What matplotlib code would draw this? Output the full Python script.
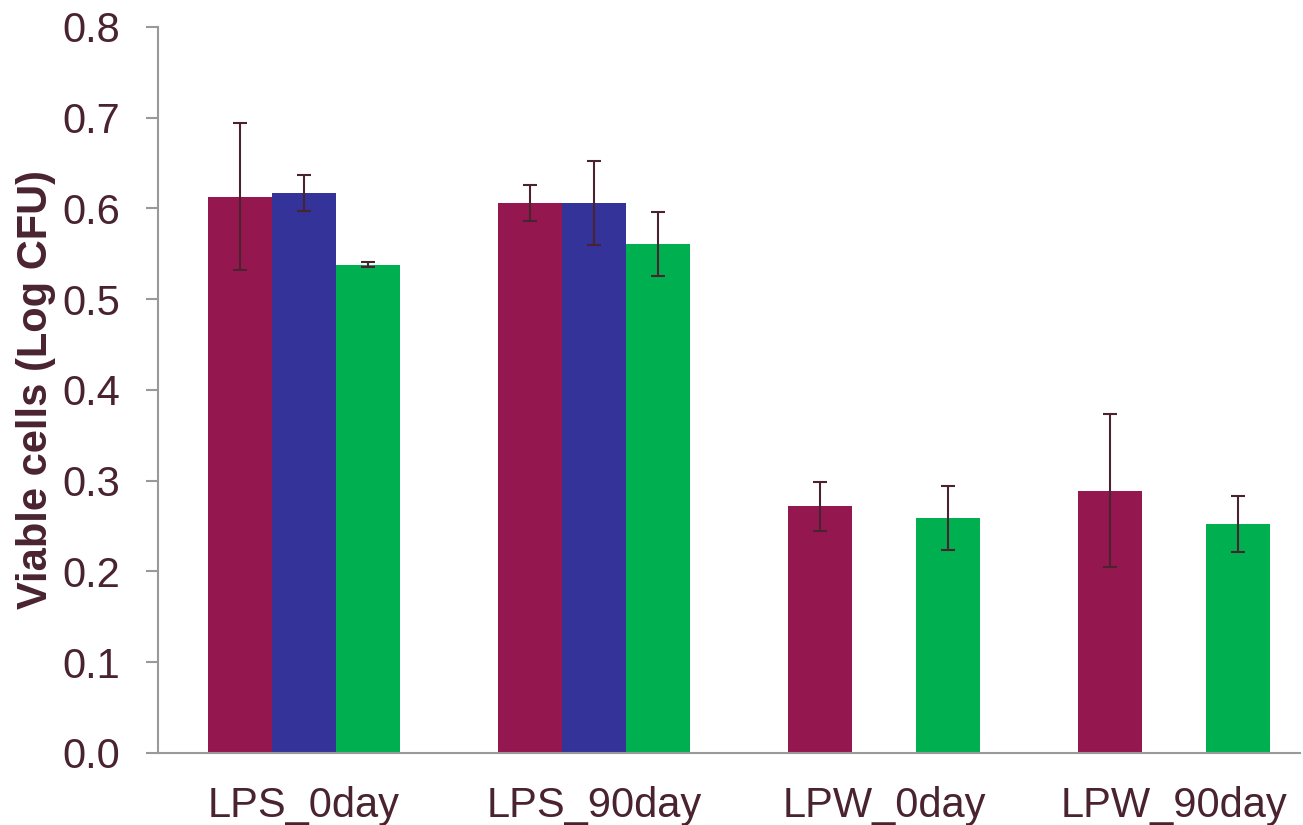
import matplotlib.pyplot as plt
import numpy as np

plt.rcParams['font.family'] = ['Liberation Sans', 'DejaVu Sans']

# data
groups = ['LPS_0day', 'LPS_90day', 'LPW_0day', 'LPW_90day']
maroon_vals = [0.613, 0.606, 0.272, 0.289]
maroon_err = [0.081, 0.020, 0.027, 0.084]
blue_vals = [0.617, 0.606, 0.0, 0.0]
blue_err = [0.020, 0.046, 0.0, 0.0]
green_vals = [0.538, 0.561, 0.259, 0.252]
green_err = [0.003, 0.035, 0.035, 0.031]

text_col = '#4A2330'
spine_col = '#999999'
colors = ['#95174F', '#333399', '#00B050']

fig = plt.figure(figsize=(13.03, 8.25), dpi=100)
ax = fig.add_axes([0.1213, 0.0873, 0.8764, 0.88])

x = np.arange(len(groups))
w = 0.221
series = [(maroon_vals, maroon_err), (blue_vals, blue_err), (green_vals, green_err)]
for i, (vals, errs) in enumerate(series):
    pos = x + (i - 1) * w
    ax.bar(pos, vals, width=w, color=colors[i], edgecolor='none', zorder=2)
    show = [j for j in range(len(vals)) if vals[j] > 0]
    ax.errorbar(pos[show], np.array(vals)[show], yerr=np.array(errs)[show],
                fmt='none', ecolor=text_col, elinewidth=1.5, capsize=5,
                capthick=1.5, zorder=3)

ax.set_xlim(-0.503, 3.434)
ax.set_ylim(0, 0.8)
ax.set_yticks(np.arange(0, 0.81, 0.1))
ax.set_yticklabels(['%.1f' % v for v in np.arange(0, 0.81, 0.1)])
ax.set_xticks(x)
ax.set_xticklabels(groups)

ax.spines['top'].set_visible(False)
ax.spines['right'].set_visible(False)
ax.spines['left'].set_color(spine_col)
ax.spines['bottom'].set_color(spine_col)
ax.spines['left'].set_linewidth(1.5)
ax.spines['bottom'].set_linewidth(1.5)

ax.tick_params(axis='y', direction='out', length=9, width=1.5, color=spine_col,
               labelsize=30, labelcolor=text_col, pad=18)
ax.tick_params(axis='x', length=0, labelsize=30, labelcolor=text_col, pad=24)

ax.set_ylabel('Viable cells (Log CFU)', fontsize=30, fontweight='bold',
              color=text_col, labelpad=5)

fig.savefig('out.png', dpi=100)
